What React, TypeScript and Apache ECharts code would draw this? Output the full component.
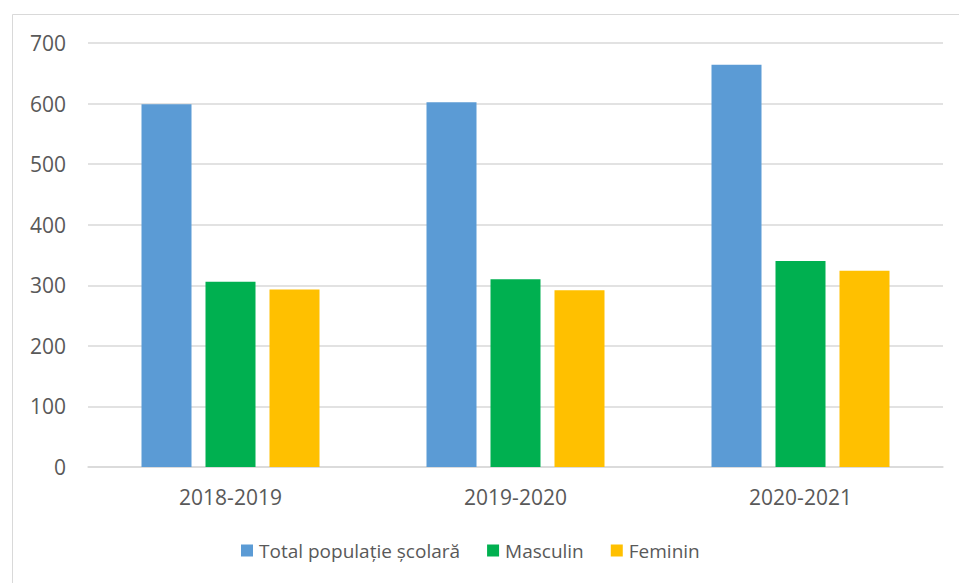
import React, { useEffect, useRef } from "react";
import * as echarts from "echarts";

const categories = ["2018-2019", "2019-2020", "2020-2021"];
const seriesNames = ["Total populație școlară", "Masculin", "Feminin"];
const totalValues = [599, 602, 664];
const masculinValues = [306, 310, 340];
const femininValues = [293, 292, 324];
const seriesColors = ["#5b9bd5", "#00b050", "#ffc000"];

export default function App() {
  const ref = useRef<HTMLDivElement>(null);
  useEffect(() => {
    document.body.style.margin = "0";
    if (!ref.current) return;
    const chart = echarts.init(ref.current, null, { renderer: "svg" });
    const font = "'Open Sans', sans-serif";
    const dataSets = [totalValues, masculinValues, femininValues];
    chart.setOption({
      animation: false,
      backgroundColor: "#ffffff",
      graphic: [
        {
          type: "rect",
          shape: { x: 12.5, y: 14.5, width: 960, height: 600 },
          style: { fill: "none", stroke: "#d9d9d9", lineWidth: 1 },
          silent: true,
        },
      ],
      grid: { left: 88, right: 16, top: 43, bottom: 116, containLabel: false },
      legend: {
        data: seriesNames,
        bottom: 18,
        left: 236,
        itemWidth: 12,
        itemHeight: 12,
        itemGap: 27,
        icon: "rect",
        textStyle: { fontFamily: font, fontSize: 19, color: "#595959", padding: [0, 0, 0, 1] },
      },
      xAxis: {
        type: "category",
        data: categories,
        axisLine: { lineStyle: { color: "#d9d9d9", width: 1.5 } },
        axisTick: { show: false },
        axisLabel: { fontFamily: font, fontSize: 21, color: "#595959", margin: 19 },
      },
      yAxis: {
        type: "value",
        min: 0,
        max: 700,
        interval: 100,
        axisLine: { show: false },
        axisTick: { show: false },
        splitLine: { lineStyle: { color: "#d9d9d9", width: 1.5 } },
        axisLabel: { fontFamily: font, fontSize: 21, color: "#595959", margin: 22 },
      },
      series: seriesNames.map((name, i) => ({
        name,
        type: "bar",
        data: dataSets[i],
        barWidth: 50,
        barGap: "28%",
        itemStyle: { color: seriesColors[i] },
      })),
    });
    return () => chart.dispose();
  }, []);
  return <div ref={ref} style={{ width: 959, height: 583 }} />;
}
